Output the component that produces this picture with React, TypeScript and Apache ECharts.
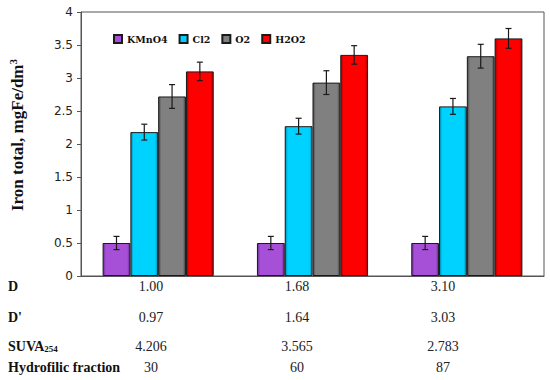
import React, { useEffect, useRef } from "react";
import * as echarts from "echarts";

const categories = ["1", "2", "3"];
const seriesNames = ["KMnO4", "Cl2", "O2", "H2O2"];
const kmno4 = [0.5, 0.5, 0.5];
const cl2 = [2.18, 2.27, 2.57];
const o2 = [2.72, 2.93, 3.33];
const h2o2 = [3.1, 3.35, 3.6];
const kmno4Err = [0.1, 0.1, 0.1];
const cl2Err = [0.12, 0.12, 0.12];
const o2Err = [0.18, 0.18, 0.18];
const h2o2Err = [0.14, 0.14, 0.15];
const yTicks = [0, 0.5, 1, 1.5, 2, 2.5, 3, 3.5, 4];

const rowLabels = ["D", "D'", "SUVA254", "Hydrofilic fraction"];
const rowD = ["1.00", "1.68", "3.10"];
const rowD2 = ["0.97", "1.64", "3.03"];
const rowSuva = ["4.206", "3.565", "2.783"];
const rowHydro = ["30", "60", "87"];

const baseColors = ["#A650D8", "#00D2FF", "#808080", "#FF0000"];
const darkColors = ["#6A2A94", "#0088B0", "#4A4A4A", "#A00000"];

export default function App() {
  const ref = useRef<HTMLDivElement>(null);
  useEffect(() => {
    if (!ref.current) return;
    const chart = echarts.init(ref.current, undefined, { renderer: "svg" });
    const values = [kmno4, cl2, o2, h2o2];
    const errs = [kmno4Err, cl2Err, o2Err, h2o2Err];
    const barFrac = 0.18;

    const barSeries = values.map((vals, i) => ({
      name: seriesNames[i],
      type: "bar",
      data: vals,
      barWidth: barFrac * 100 + "%",
      barGap: "0%",
      itemStyle: {
        color: new echarts.graphic.LinearGradient(0, 0, 1, 0, [
          { offset: 0, color: darkColors[i] },
          { offset: 0.1, color: baseColors[i] },
          { offset: 0.9, color: baseColors[i] },
          { offset: 1, color: darkColors[i] },
        ]),
        borderColor: "#1a1a1a",
        borderWidth: 1,
      },
    }));

    const errSeries = values.map((vals, i) => ({
      name: "err" + i,
      type: "custom",
      z: 10,
      encode: { x: 0, y: 1 },
      data: vals.map((v, k) => [k, v, errs[i][k]]),
      renderItem: (params: any, api: any) => {
        const cat = api.value(0);
        const val = api.value(1);
        const err = api.value(2);
        const c = api.coord([cat, val]);
        const bandW = api.size([1, 0])[0];
        const bw = bandW * barFrac;
        const x = c[0] + (i - 1.5) * bw;
        const hi = api.coord([cat, val + err])[1];
        const lo = api.coord([cat, val - err])[1];
        const cap = 3;
        const st = { stroke: "#1a1a1a", lineWidth: 1.2 };
        return {
          type: "group",
          children: [
            { type: "line", shape: { x1: x, y1: hi, x2: x, y2: lo }, style: st },
            { type: "line", shape: { x1: x - cap, y1: hi, x2: x + cap, y2: hi }, style: st },
            { type: "line", shape: { x1: x - cap, y1: lo, x2: x + cap, y2: lo }, style: st },
          ],
        };
      },
    }));

    const rowY = [286, 317, 346, 367];
    const colX = [151, 297, 443];
    const rows = [rowD, rowD2, rowSuva, rowHydro];
    const graphics: any[] = [];
    rowLabels.forEach((lab, r) => {
      let text = lab;
      if (lab === "SUVA254") text = "{a|SUVA}{s|254}";
      else text = "{a|" + lab + "}";
      graphics.push({
        type: "text",
        x: 8,
        y: rowY[r],
        style: {
          text,
          verticalAlign: "middle",
          align: "left",
          rich: {
            a: { fontFamily: "Liberation Serif", fontWeight: "bold", fontSize: 14, fill: "#111", verticalAlign: "bottom" },
            s: { fontFamily: "Liberation Serif", fontWeight: "bold", fontSize: 9, fill: "#111", verticalAlign: "bottom" },
          },
        },
      });
      rows[r].forEach((v, k) => {
        graphics.push({
          type: "text",
          x: colX[k],
          y: rowY[r],
          style: {
            text: v,
            align: "center",
            verticalAlign: "middle",
            fontFamily: "Liberation Serif",
            fontSize: 14,
            fill: "#222",
          },
        });
      });
    });
    graphics.push({
      type: "text",
      x: 17,
      y: 135,
      rotation: Math.PI / 2,
      style: {
        text: "{a|Iron total, mgFe/dm}{s|3}",
        align: "center",
        verticalAlign: "middle",
        rich: {
          a: { fontFamily: "Liberation Serif", fontWeight: "bold", fontSize: 17, fill: "#111", lineHeight: 20 },
          s: { fontFamily: "Liberation Serif", fontWeight: "bold", fontSize: 11, fill: "#111", verticalAlign: "top", lineHeight: 20 },
        },
      },
    });

    chart.setOption({
      animation: false,
      backgroundColor: "#ffffff",
      grid: {
        left: 81,
        top: 12,
        right: 6,
        bottom: 104,
        show: true,
        borderColor: "#555",
        borderWidth: 1,
      },
      legend: {
        data: seriesNames,
        left: 108,
        top: 29,
        itemWidth: 8,
        itemHeight: 8,
        itemGap: 11,
        icon: "rect",
        textStyle: {
          fontFamily: "DejaVu Serif",
          fontWeight: "bold",
          fontSize: 9.5,
          color: "#111",
          padding: [20, 0, 0, 0],
        },
      },
      xAxis: {
        type: "category",
        data: categories,
        axisLabel: { show: false },
        axisTick: { show: false },
        axisLine: { lineStyle: { color: "#555" } },
      },
      yAxis: {
        type: "value",
        min: yTicks[0],
        max: yTicks[yTicks.length - 1],
        interval: 0.5,
        splitLine: { show: false },
        axisLine: { show: true, lineStyle: { color: "#555" } },
        axisTick: { show: true, length: 4, lineStyle: { color: "#555" } },
        axisLabel: {
          fontFamily: "DejaVu Sans",
          fontSize: 12,
          color: "#222",
          margin: 8,
        },
      },
      series: [...barSeries, ...errSeries],
      graphic: graphics,
    });
    return () => chart.dispose();
  }, []);
  return <div ref={ref} style={{ width: 550, height: 380, position: "absolute", left: 0, top: 0 }} />;
}
